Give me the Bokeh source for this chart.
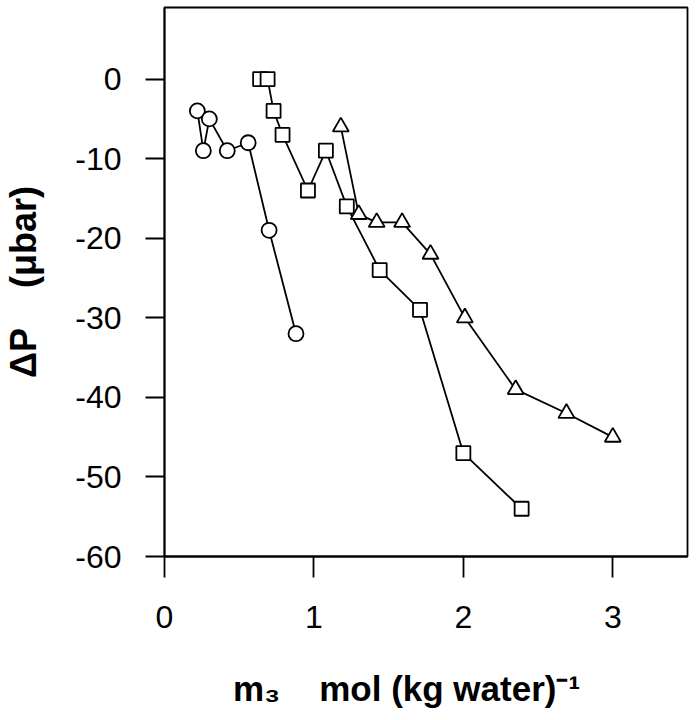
from bokeh.plotting import figure
from bokeh.models import Range1d, FixedTicker
from bokeh.embed import file_html
from bokeh.resources import INLINE

# ---- data ----
circle_x = [0.22, 0.26, 0.30, 0.42, 0.56, 0.70, 0.88]
circle_y = [-4, -9, -5, -9, -8, -19, -32]
square_x = [0.64, 0.69, 0.73, 0.79, 0.96, 1.08, 1.22, 1.44, 1.71, 2.00, 2.39]
square_y = [0, 0, -4, -7, -14, -9, -16, -24, -29, -47, -54]
tri_x = [1.18, 1.30, 1.42, 1.59, 1.78, 2.01, 2.35, 2.69, 3.00]
tri_y = [-6, -17, -18, -18, -22, -30, -39, -42, -45]
x_ticks = [0, 1, 2, 3]
y_ticks = [0, -10, -20, -30, -40, -50, -60]
x_tick_labels = {t: str(t) for t in x_ticks}
y_tick_labels = {t: str(t) for t in y_ticks}

FONT = "Liberation Sans"
NB = "\u00a0"
W, H = 690, 712

p = figure(width=W, height=H,
           x_range=Range1d(0, 3.5), y_range=Range1d(-60, 9),
           output_backend="svg", toolbar_location=None,
           min_border_left=164, min_border_right=3,
           min_border_top=7, min_border_bottom=156)

p.background_fill_color = "white"
p.border_fill_color = "white"
p.outline_line_color = "black"
p.outline_line_width = 1.8
p.xgrid.visible = False
p.ygrid.visible = False

for ax in (p.xaxis[0], p.yaxis[0]):
    ax.axis_line_color = "black"
    ax.axis_line_width = 1.8
    ax.major_tick_line_color = "black"
    ax.major_tick_line_width = 1.8
    ax.major_tick_in = 0
    ax.minor_tick_line_color = None
    ax.major_label_text_font = FONT
    ax.major_label_text_font_size = "32px"
    ax.major_label_text_color = "black"
    ax.axis_label_text_font = FONT
    ax.axis_label_text_font_style = "bold"
    ax.axis_label_text_color = "black"

p.xaxis[0].ticker = FixedTicker(ticks=x_ticks)
p.yaxis[0].ticker = FixedTicker(ticks=y_ticks)
p.xaxis[0].major_label_overrides = x_tick_labels
p.yaxis[0].major_label_overrides = y_tick_labels
p.xaxis[0].major_tick_out = 21
p.yaxis[0].major_tick_out = 19
p.xaxis[0].major_label_standoff = 28
p.yaxis[0].major_label_standoff = 24

p.yaxis[0].axis_label = "\u0394P" + NB * 4 + "(\u03bcbar)"
p.yaxis[0].axis_label_text_font_size = "36px"
p.yaxis[0].axis_label_standoff = 28

p.xaxis[0].axis_label = "m\u2083" + NB * 4 + "mol (kg water)\u207b\u00b9" + NB * 4
p.xaxis[0].axis_label_text_font_size = "35px"
p.xaxis[0].axis_label_standoff = 38

# series
p.line(circle_x, circle_y, line_color="black", line_width=1.8)
p.line(square_x, square_y, line_color="black", line_width=1.8)
p.line(tri_x, tri_y, line_color="black", line_width=1.8)

p.scatter(circle_x, circle_y, marker="circle", size=15,
          fill_color="white", line_color="black", line_width=1.8)
p.scatter(square_x, square_y, marker="square", size=14,
          fill_color="white", line_color="black", line_width=1.8)
p.scatter(tri_x, tri_y, marker="triangle", size=16,
          fill_color="white", line_color="black", line_width=1.8)

open("out.html", "w").write(file_html(p, INLINE))
